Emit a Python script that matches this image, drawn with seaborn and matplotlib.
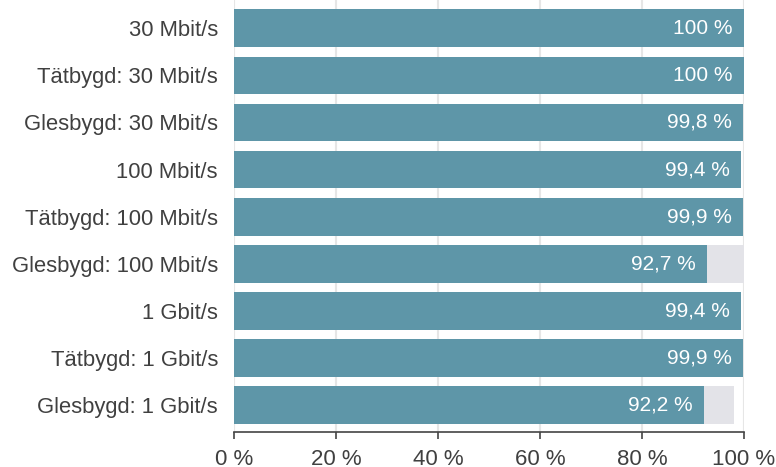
import matplotlib
matplotlib.use("Agg")
import matplotlib.pyplot as plt
import seaborn as sns
import pandas as pd

# Kategorier och värden (andel i procent)
kategorier = ["30 Mbit/s", "Tätbygd: 30 Mbit/s", "Glesbygd: 30 Mbit/s",
              "100 Mbit/s", "Tätbygd: 100 Mbit/s", "Glesbygd: 100 Mbit/s",
              "1 Gbit/s", "Tätbygd: 1 Gbit/s", "Glesbygd: 1 Gbit/s"]
andel = [100, 100, 99.8, 99.4, 99.9, 92.7, 99.4, 99.9, 92.2]
andel_bakgrund = [100, 100, 99.8, 99.4, 99.9, 100, 99.4, 99.9, 98.0]
etiketter = ["100 %", "100 %", "99,8 %", "99,4 %", "99,9 %", "92,7 %", "99,4 %", "99,9 %", "92,2 %"]

df = pd.DataFrame({"kategori": kategorier, "andel": andel, "bakgrund": andel_bakgrund})

sns.set_style("white")
plt.rcParams["font.family"] = ["Liberation Sans", "DejaVu Sans"]

fig = plt.figure(figsize=(7.76, 4.67), dpi=100)
ax = fig.add_axes([0.3015, 0.075, 0.657, 0.925])

# grå bakgrundsstaplar först, sedan andelen ovanpå
sns.barplot(data=df, y="kategori", x="bakgrund", color="#e3e3e8", saturation=1, width=0.8,
            linewidth=0, ax=ax, zorder=2)
sns.barplot(data=df, y="kategori", x="andel", color="#5e96a8", saturation=1, width=0.8,
            linewidth=0, ax=ax, zorder=3)

for i, (v, t) in enumerate(zip(andel, etiketter)):
    ax.annotate(t, xy=(v, i), xytext=(-8, 0), textcoords="offset points",
                ha="right", va="center", color="white", fontsize=15, zorder=4)

ax.set_xlim(0, 100)
ax.set_ylim(8.57, -0.6)
ax.set_xticks([0, 20, 40, 60, 80, 100])
ax.set_xticklabels(["0 %", "20 %", "40 %", "60 %", "80 %", "100 %"])
ax.set_xlabel("")
ax.set_ylabel("")
ax.grid(axis="x", color="#e6e6e6", linewidth=1.5, zorder=0)
ax.set_axisbelow(True)

for s in ["top", "right", "left"]:
    ax.spines[s].set_visible(False)
ax.spines["bottom"].set_color("#444444")
ax.spines["bottom"].set_linewidth(1.2)

ax.tick_params(axis="x", bottom=True, length=5, width=1.2, color="#444444",
               labelsize=16, labelcolor="#404040", pad=7)
ax.tick_params(axis="y", left=False, labelsize=15.8, labelcolor="#404040", pad=8)

fig.savefig("out.png", dpi=100)
